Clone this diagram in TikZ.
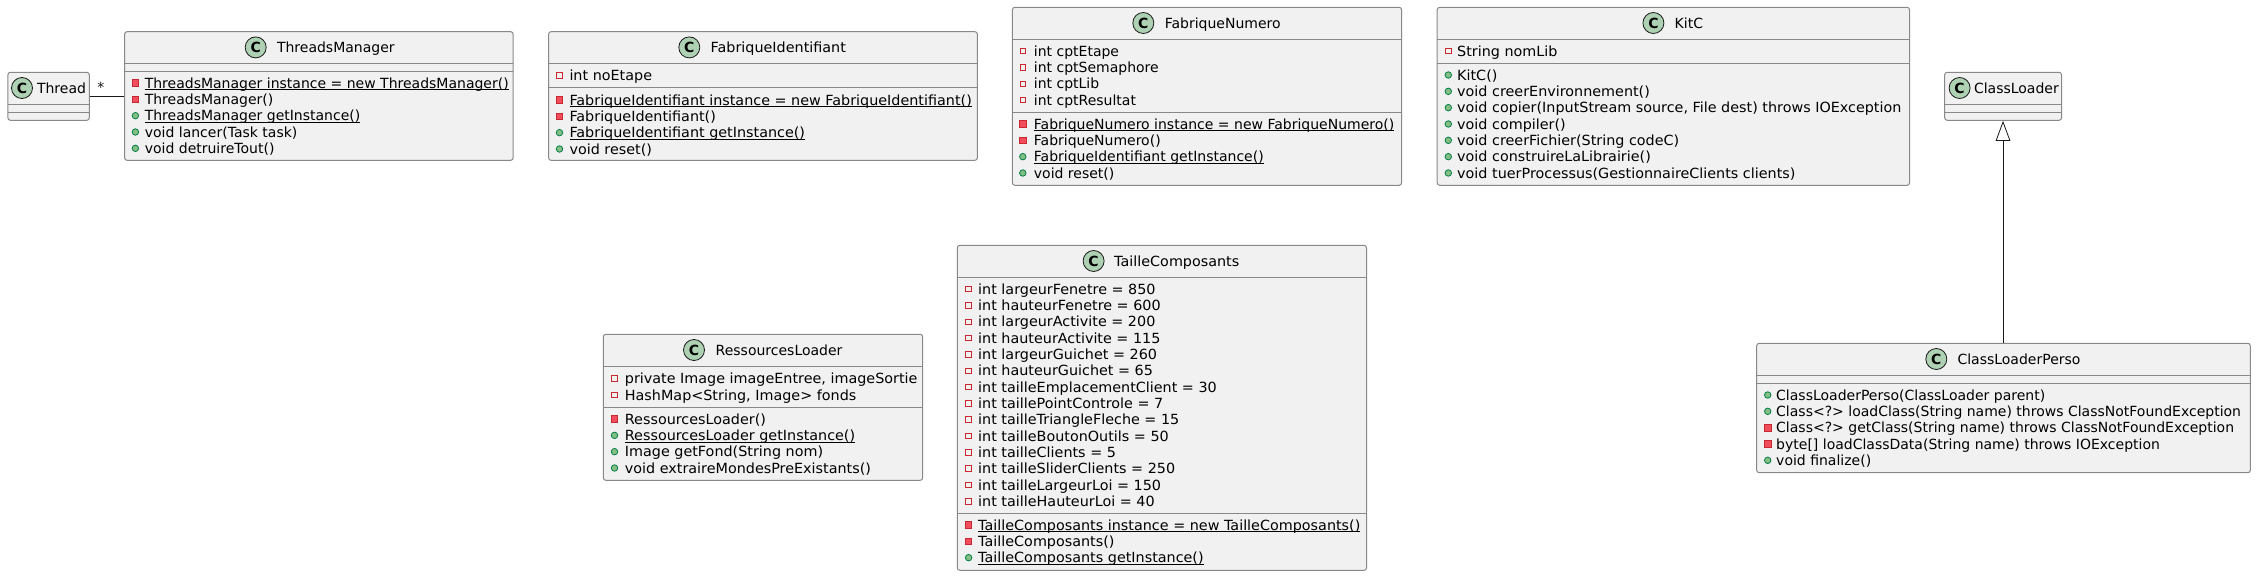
\documentclass[tikz,border=0pt]{standalone}
\usepackage{fontspec}
\setmainfont{DejaVu Sans}
\newfontfamily\widefont[FakeStretch=1.025]{DejaVu Sans}
\usetikzlibrary{arrows.meta}
\definecolor{boxfill}{HTML}{F1F1F1}
\definecolor{boxline}{HTML}{888888}
\definecolor{spotfill}{HTML}{ADD1B2}
\definecolor{inkline}{HTML}{181818}
\definecolor{privline}{HTML}{C82930}
\definecolor{privfill}{HTML}{F24D5C}
\definecolor{publine}{HTML}{038048}
\definecolor{pubfill}{HTML}{84BE84}
\tikzset{
  classdecorate/.style={shape=rectangle,draw=boxline,fill=boxfill,line width=1pt,
    rounded corners=2.5pt,inner sep=0pt},
  spotdecorate/.style={shape=circle,draw=inkline,fill=spotfill,line width=0.8pt,
    minimum size=21pt,inner sep=0pt,font=\fontsize{14}{16}\selectfont\bfseries},
  textdecorate/.style={anchor=base west,inner sep=0pt,text=black,
    font=\fontsize{14}{16}\selectfont},
  widetext/.style={font=\fontsize{14}{16}\widefont},
  attr/.style={shape=rectangle,draw=privline,fill=boxfill,line width=0.8pt,
    minimum size=5.5pt,inner sep=0pt},
  priv/.style={shape=rectangle,draw=privline,fill=privfill,line width=0.8pt,
    minimum size=6.5pt,inner sep=0pt},
  pub/.style={shape=circle,draw=publine,fill=pubfill,line width=0.8pt,
    minimum size=6.5pt,inner sep=0pt},
  linedecorate/.style={inkline,line width=0.8pt}
}
% [title style], name, left, top, right, bottom, spot x, title x, title
\newcommand{\classbox}[9][]{
  \node (#2) at ({(#3+#5)/2},{(#4+#6)/2}) [classdecorate,
    minimum width=#5-#3,minimum height=#6-#4] {};
  \node (#2-spot) at (#7,#4+15.7) [spotdecorate] {C};
  \node (#2-title) at (#8,#4+20.9) [textdecorate,#1] {#9};
}
% left, right, y of the line
\newcommand{\classrule}[3]{
  \draw[boxline,line width=1pt] (#1,#3) -- (#2,#3);
}
% [text style], box name, part, icon x, text x, y of first row, rows
\newcommand{\classrows}[7][]{
  \foreach \kind/\txt [count=\rownum] in {#7}
  {
    \node (#2-#3-i\rownum) at (#4,{#6+(\rownum-1)*16.33}) [\kind] {};
    \node (#2-#3-t\rownum) at (#5,{#6+5.2+(\rownum-1)*16.33}) [textdecorate,#1] {\txt};
  }
}
\newcommand{\sta}[1]{\setbox0=\hbox{#1}\rlap{\vrule width\wd0 height -1.2pt depth 2.2pt}\box0}
\begin{document}
\begin{tikzpicture}[x=1pt,y=-1pt]
\useasboundingbox (0,0) rectangle (2256,576);
%% Thread
\classbox{thread}{7.9}{72.3}{89.3}{120.3}{22}{36.8}{Thread}
\classrule{7.9}{89.3}{104.3}
\classrule{7.9}{89.3}{112.3}
%% ThreadsManager
\classbox{manager}{124.6}{31.7}{513.2}{160.3}{255.7}{276.8}{ThreadsManager}
\classrule{124.6}{513.2}{63.3}
\classrule{124.6}{513.2}{71.3}
\classrows{manager}{m}{135.4}{144.6}{83}{
  priv/{\sta{ThreadsManager instance = new ThreadsManager()}},
  priv/{ThreadsManager()},
  pub/{\sta{ThreadsManager getInstance()}},
  pub/{void lancer(Task task)},
  pub/{void detruireTout()}}
%% FabriqueIdentifiant
\classbox[widetext]{identifiant}{548.6}{31.7}{977.4}{160.3}{689.3}{710.5}{FabriqueIdentifiant}
\classrule{548.6}{977.4}{63.3}
\classrule{548.6}{977.4}{87.3}
\classrows[widetext]{identifiant}{a}{559.5}{569.3}{75.3}{attr/{int noEtape}}
\classrows[widetext]{identifiant}{m}{559.5}{569.3}{100}{
  priv/{\sta{FabriqueIdentifiant instance = new FabriqueIdentifiant()}},
  priv/{FabriqueIdentifiant()},
  pub/{\sta{FabriqueIdentifiant getInstance()}},
  pub/{void reset()}}
%% FabriqueNumero
\classbox{numero}{1012.4}{7.3}{1401.6}{185.3}{1143.3}{1164.6}{FabriqueNumero}
\classrule{1012.4}{1401.6}{39.3}
\classrule{1012.4}{1401.6}{112.3}
\classrows{numero}{a}{1022.8}{1033.7}{51}{
  attr/{int cptEtape},
  attr/{int cptSemaphore},
  attr/{int cptLib},
  attr/{int cptResultat}}
\classrows{numero}{m}{1022.8}{1033.7}{124}{
  priv/{\sta{FabriqueNumero instance = new FabriqueNumero()}},
  priv/{FabriqueNumero()},
  pub/{\sta{FabriqueIdentifiant getInstance()}},
  pub/{void reset()}}
%% KitC
\classbox{kitc}{1437.2}{7.3}{1909.5}{185.3}{1653.4}{1674.5}{KitC}
\classrule{1437.2}{1909.5}{39.3}
\classrule{1437.2}{1909.5}{63.3}
\classrows[widetext]{kitc}{a}{1448.3}{1457}{51}{attr/{String nomLib}}
\classrows[widetext]{kitc}{m}{1448.3}{1457}{75}{
  pub/{KitC()},
  pub/{void creerEnvironnement()},
  pub/{void copier(InputStream source, File dest) throws IOException},
  pub/{void compiler()},
  pub/{void creerFichier(String codeC)},
  pub/{void construireLaLibrairie()},
  pub/{void tuerProcessus(GestionnaireClients clients)}}
%% ClassLoader
\classbox{loader}{1944.7}{72.3}{2061.5}{120.3}{1959.6}{1973.8}{ClassLoader}
\classrule{1944.7}{2061.5}{104.3}
\classrule{1944.7}{2061.5}{112.3}
%% ClassLoaderPerso
\classbox{perso}{1756.7}{343.3}{2250.3}{472.7}{1936.3}{1957.3}{ClassLoaderPerso}
\classrule{1756.7}{2250.3}{375.3}
\classrule{1756.7}{2250.3}{383.3}
\classrows{perso}{m}{1767.7}{1776}{395}{
  pub/{ClassLoaderPerso(ClassLoader parent)},
  pub/{Class<?> loadClass(String name) throws ClassNotFoundException},
  priv/{Class<?> getClass(String name) throws ClassNotFoundException},
  priv/{byte[] loadClassData(String name) throws IOException},
  pub/{void finalize()}}
%% RessourcesLoader
\classbox{ressources}{603.3}{334.3}{922.7}{480.3}{694}{715.5}{RessourcesLoader}
\classrule{603.3}{922.7}{366.3}
\classrule{603.3}{922.7}{407.3}
\classrows[widetext]{ressources}{a}{614.5}{624.7}{378.5}{
  attr/{private Image imageEntree, imageSortie},
  attr/{HashMap<String, Image> fonds}}
\classrows[widetext]{ressources}{m}{614.5}{624.7}{419}{
  priv/{RessourcesLoader()},
  pub/{\sta{RessourcesLoader getInstance()}},
  pub/{Image getFond(String nom)},
  pub/{void extraireMondesPreExistants()}}
%% TailleComposants
\classbox[widetext]{taille}{957.3}{245.3}{1366.5}{570.3}{1093.6}{1114}{TailleComposants}
\classrule{957.3}{1366.5}{277.3}
\classrule{957.3}{1366.5}{513.3}
\classrows[widetext]{taille}{a}{968.6}{978}{289}{
  attr/{int largeurFenetre = 850},
  attr/{int hauteurFenetre = 600},
  attr/{int largeurActivite = 200},
  attr/{int hauteurActivite = 115},
  attr/{int largeurGuichet = 260},
  attr/{int hauteurGuichet = 65},
  attr/{int tailleEmplacementClient = 30},
  attr/{int taillePointControle = 7},
  attr/{int tailleTriangleFleche = 15},
  attr/{int tailleBoutonOutils = 50},
  attr/{int tailleClients = 5},
  attr/{int tailleSliderClients = 250},
  attr/{int tailleLargeurLoi = 150},
  attr/{int tailleHauteurLoi = 40}}
\classrows[widetext]{taille}{m}{968.6}{978}{525}{
  priv/{\sta{TailleComposants instance = new TailleComposants()}},
  priv/{TailleComposants()},
  pub/{\sta{TailleComposants getInstance()}}}
%% edges or lines
\draw[linedecorate] (thread.east |- 0,96.5) -- node[pos=0.32,yshift=9.5pt,
  inner sep=0pt,font=\fontsize{14}{16}\selectfont] (star) {*} (manager.west |- 0,96.5);
\coordinate (apex) at (2003,120.3);
\draw[linedecorate,-{Triangle[open,fill=white,length=20pt,width=14.6pt]}]
  (perso.north -| apex) -- (loader.south -| apex);
\end{tikzpicture}
\end{document}
